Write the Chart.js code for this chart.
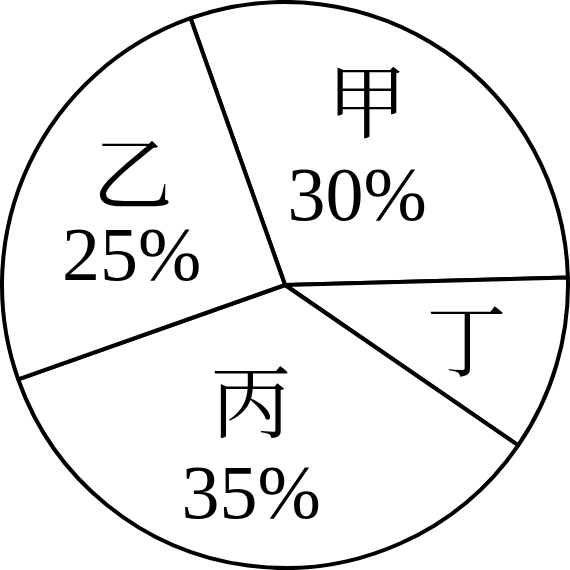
<!DOCTYPE html>
<html><head><meta charset="utf-8">
<script src="https://cdn.jsdelivr.net/npm/chart.js@4/dist/chart.umd.min.js"></script>
<style>html,body{margin:0;padding:0;background:#fff}canvas{display:block}</style>
</head><body>
<canvas id="c" width="570" height="570"></canvas>
<script>
const categories = ['甲', '丁', '丙', '乙'];
const percents = [30, 10, 35, 25];
const percentLabels = ['30%', '', '35%', '25%'];

// label placement relative to pie centre, in units of radius
const namePos = [[0.29, -0.653], [0.641, 0.193], [-0.12, 0.409], [-0.538, -0.398]];
const pctPos  = [[0.255, -0.299], null, [-0.12, 0.752], [-0.542, -0.087]];

const labelPlugin = {
  id: 'pieLabels',
  afterDatasetsDraw(chart) {
    const ctx = chart.ctx;
    const arc = chart.getDatasetMeta(0).data[0];
    const cx = arc.x, cy = arc.y, r = arc.outerRadius;
    ctx.save();
    ctx.fillStyle = '#000';
    ctx.textAlign = 'center';
    categories.forEach((name, i) => {
      ctx.font = '80px "Noto Serif CJK SC", "Noto Sans CJK SC", serif';
      ctx.textBaseline = 'middle';
      ctx.fillText(name, cx + namePos[i][0] * r, cy + namePos[i][1] * r);
      if (pctPos[i]) {
        ctx.font = '76px "Liberation Serif", "Times New Roman", serif';
        ctx.textBaseline = 'middle';
        ctx.fillText(percentLabels[i], cx + pctPos[i][0] * r, cy + pctPos[i][1] * r);
      }
    });
    ctx.restore();
  }
};

new Chart(document.getElementById('c'), {
  type: 'pie',
  data: {
    labels: categories,
    datasets: [{
      data: percents,
      backgroundColor: '#ffffff',
      borderColor: '#000000',
      borderWidth: 4,
      hoverOffset: 0
    }]
  },
  options: {
    responsive: false,
    animation: false,
    rotation: -19.5,
    layout: { padding: 0 },
    plugins: { legend: { display: false }, tooltip: { enabled: false } }
  },
  plugins: [labelPlugin]
});
</script>
</body></html>
